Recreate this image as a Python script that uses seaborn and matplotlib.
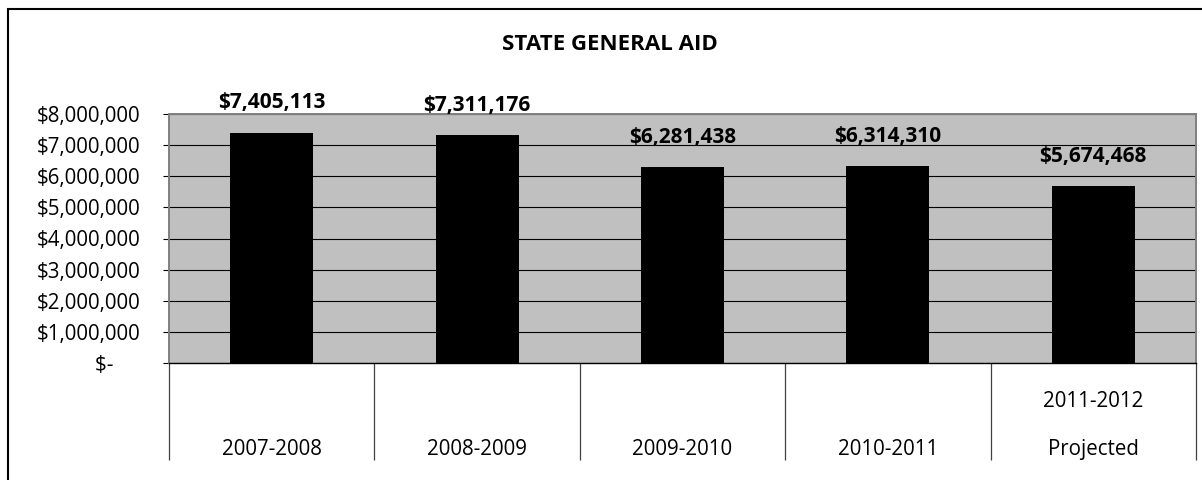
import matplotlib
matplotlib.use("Agg")
import matplotlib.pyplot as plt
import seaborn as sns
import pandas as pd
from matplotlib.patches import Rectangle
from matplotlib.ticker import FixedLocator, FuncFormatter

# Data
categories = ["2007-2008", "2008-2009", "2009-2010", "2010-2011", "2011-2012\nProjected"]
aid_values = [7405113, 7311176, 6281438, 6314310, 5674468]
y_ticks = [0, 1000000, 2000000, 3000000, 4000000, 5000000, 6000000, 7000000, 8000000]

sns.set_theme(style="white")
plt.rcParams["font.family"] = ["Open Sans", "DejaVu Sans"]

df = pd.DataFrame({"year": categories, "aid": aid_values})

fig = plt.figure(figsize=(12.02, 4.8), dpi=100)
ax = fig.add_axes([169 / 1202, 1 - 363 / 480, (1196 - 169) / 1202, (363 - 114) / 480])
ax.set_facecolor("#C0C0C0")

sns.barplot(data=df, x="year", y="aid", color="black", saturation=1,
            width=0.405, linewidth=0, edgecolor="black", ax=ax, zorder=3)

ax.set_ylim(0, 8000000)
ax.set_xlim(-0.5, len(categories) - 0.5)

# Horizontal gridlines
ax.yaxis.set_major_locator(FixedLocator(y_ticks))
ax.yaxis.grid(True, color="black", linewidth=0.8, zorder=1)
ax.xaxis.grid(False)
ax.set_axisbelow(True)


def money(v, pos=None):
    if v == 0:
        return "$-     "
    return "${:,.0f}".format(v)


ax.yaxis.set_major_formatter(FuncFormatter(money))
ax.tick_params(axis="y", which="major", length=4.5, width=0.8, color="black",
               pad=16, labelsize=14.8, labelcolor="black", left=True)

# Category separators below the axis
ax.set_xticks([i - 0.5 for i in range(len(categories) + 1)], minor=True)
ax.tick_params(axis="x", which="minor", length=70, width=0.9, color="#404040",
               direction="out", bottom=True)
ax.tick_params(axis="x", which="major", length=0, pad=70, labelsize=14.8,
               labelcolor="black")
for lab in ax.get_xticklabels():
    lab.set_verticalalignment("bottom")
    lab.set_linespacing(2.7)

ax.set_xlabel("")
ax.set_ylabel("")

for side in ["left", "top", "right"]:
    ax.spines[side].set_visible(True)
    ax.spines[side].set_color("#808080")
    ax.spines[side].set_linewidth(1.4)
ax.spines["bottom"].set_visible(True)
ax.spines["bottom"].set_color("black")
ax.spines["bottom"].set_linewidth(1.0)

# Value labels above the bars
for i, v in enumerate(aid_values):
    ax.annotate("${:,.0f}".format(v), xy=(i, v), xytext=(0, 21.5),
                textcoords="offset points", ha="center", va="center",
                fontsize=15, fontweight="bold", color="black",
                annotation_clip=False)

fig.text(610 / 1202, 1 - 45 / 480, "STATE GENERAL AID", ha="center", va="center",
         fontsize=16, fontweight="bold", color="black")

# Chart outline
fig.add_artist(Rectangle((8 / 1202, -0.2), 1.2, 1.2 - 9 / 480, fill=False,
                         edgecolor="black", linewidth=1.5,
                         transform=fig.transFigure, clip_on=False))

fig.savefig("out.png", dpi=100, facecolor="white")
